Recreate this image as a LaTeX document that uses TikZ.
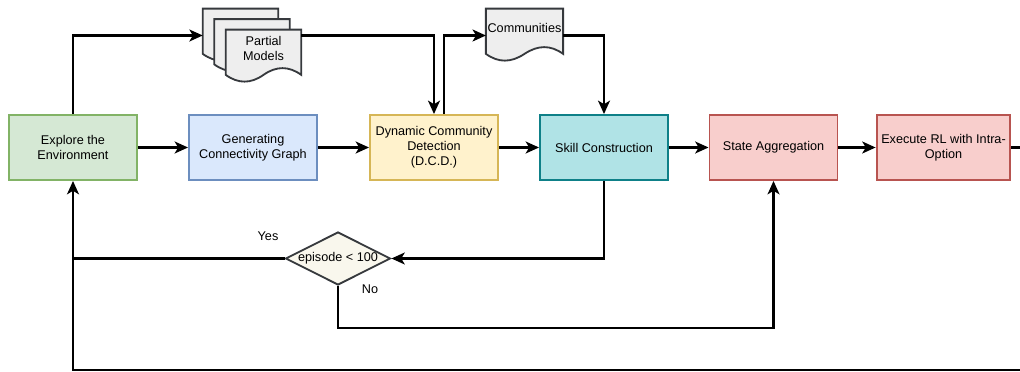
\documentclass[tikz,border=0pt]{standalone}
\usepackage{fontspec}
\setmainfont{Liberation Sans}
\usetikzlibrary{arrows.meta,shapes.geometric}

\definecolor{greenfill}{HTML}{D5E8D4}
\definecolor{greenline}{HTML}{82B366}
\definecolor{bluefill}{HTML}{DAE8FC}
\definecolor{blueline}{HTML}{6C8EBF}
\definecolor{yellowfill}{HTML}{FFF2CC}
\definecolor{yellowline}{HTML}{D6B656}
\definecolor{tealfill}{HTML}{B0E3E6}
\definecolor{tealline}{HTML}{0E8088}
\definecolor{redfill}{HTML}{F8CECC}
\definecolor{redline}{HTML}{B85450}
\definecolor{docfill}{HTML}{EEEEEE}
\definecolor{darkline}{HTML}{36393D}
\definecolor{condfill}{HTML}{F9F7ED}

\tikzset{
    txt/.style={font=\fontsize{9}{10.7}\selectfont},
    box/.style={txt,draw,rectangle,minimum width=3.2cm,minimum height=1.625cm,align=center,line width=1.4pt},
    % document sheet: the node is the text area, the wavy foot hangs below it
    docu/.style={txt,rectangle,minimum width=1.875cm,minimum height=0.93cm,inner sep=1pt,align=center,
        append after command={\pgfextra{
            \draw[fill=docfill,draw=darkline,line width=1.3pt]
                (\tikzlastnode.north west) -- (\tikzlastnode.north east)
                -- ([yshift=-1.875mm]\tikzlastnode.south east)
                .. controls ([xshift=-3.125mm,yshift=0.375mm]\tikzlastnode.south east)
                and ([xshift=-6.25mm,yshift=0.375mm]\tikzlastnode.south east) ..
                ([yshift=-1.875mm]\tikzlastnode.south)
                .. controls ([xshift=6.25mm,yshift=-4.125mm]\tikzlastnode.south west)
                and ([xshift=3.125mm,yshift=-4.125mm]\tikzlastnode.south west) ..
                ([yshift=-1.875mm]\tikzlastnode.south west) -- cycle;}}},
    cond/.style={txt,draw=darkline,fill=condfill,diamond,aspect=2,inner sep=0pt,minimum width=2.625cm,minimum height=1.325cm,line width=1.3pt},
    flow/.style={line width=1.5pt,-{Stealth[length=9.5pt,width=8.5pt,inset=2.5pt]}},
    merge/.style={line width=1.5pt},
}

\begin{document}
\begin{tikzpicture}
    \clip (0,0) rectangle (25.5,9.3);

    % main row
    \node[box,fill=greenfill,draw=greenline] (explore) at (1.825,5.6125) {Explore the\\Environment};
    \node[box,fill=bluefill,draw=blueline] (graph) at (6.325,5.6125) {Generating\\Connectivity Graph};
    \node[box,fill=yellowfill,draw=yellowline] (dcd) at (10.85,5.6125) {Dynamic Community\\Detection\\(D.C.D.)};
    \node[box,fill=tealfill,draw=tealline] (skill) at (15.1,5.6125) {Skill Construction};
    \node[box,fill=redfill,draw=redline] (state) at (19.3375,5.6125) {State Aggregation};
    \node[box,fill=redfill,draw=redline] (exec) at (23.5875,5.6125) {Execute RL with Intra-\\Option};

    % stacked partial models and the communities sheet
    \node[docu] (partC) at (6.0125,8.6125) {};
    \node[docu] (partB) at (6.3,8.35) {};
    \node[docu] (partA) at (6.5875,8.0875) {Partial\\Models};
    \node[docu] (comm) at (13.1125,8.6125) {Communities};

    % loop test
    \node[cond] (test) at (8.45,2.8375) {episode < 100};
    \node[txt] (yes) at (6.7,3.4) {Yes};
    \node[txt] (no) at (9.25,2.075) {No};

    \coordinate (pin) at ([yshift=-2mm]partC.west);
    \coordinate (cpin) at ([yshift=-2mm]comm.west);
    \coordinate (back) at (26,0.05);

    \draw[flow] (explore) -- (graph);
    \draw[flow] (graph) -- (dcd);
    \draw[flow] (dcd) -- (skill);
    \draw[flow] (skill) -- (state);
    \draw[flow] (state) -- (exec);

    \draw[flow] (explore) |- (pin);
    \draw[flow] (partA.east |- pin) -| (dcd);
    \draw[flow] ([xshift=2.5mm]dcd.north) |- (cpin);
    \draw[flow] (comm.east |- cpin) -| (skill);

    \draw[flow] (skill) |- (test);
    \draw[merge] (test) -- (test -| explore);
    \draw[flow] (test.south) -- ++(0,-1.0625) -| (state);
    \draw[flow] (exec) -| (back) -| (explore);
\end{tikzpicture}
\end{document}
